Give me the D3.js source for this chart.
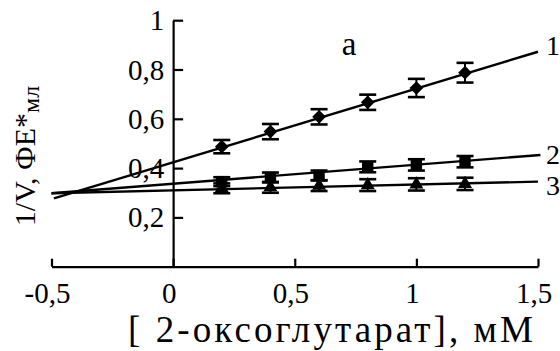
<!DOCTYPE html>
<html><head><meta charset="utf-8">
<script src="https://cdn.jsdelivr.net/npm/d3@7"></script>
</head>
<body style="margin:0"><svg id="c" width="560" height="351" style="display:block"></svg>
<script>
// data
const xValues = [0.2, 0.4, 0.6, 0.8, 1.0, 1.2];
const series1 = [0.487, 0.548, 0.608, 0.667, 0.725, 0.787];
const err1    = [0.027, 0.031, 0.031, 0.031, 0.037, 0.040];
const series2 = [0.345, 0.362, 0.370, 0.405, 0.413, 0.426];
const err2    = [0.018, 0.020, 0.020, 0.022, 0.023, 0.023];
const series3 = [0.318, 0.322, 0.329, 0.331, 0.334, 0.336];
const err3    = [0.020, 0.022, 0.022, 0.024, 0.025, 0.025];
// fitted lines (endpoints)
const fit1X = [-0.49, 1.5], fit1Y = [0.277, 0.872];
const fit2X = [-0.5, 1.51], fit2Y = [0.298, 0.453];
const fit3X = [-0.5, 1.5],  fit3Y = [0.298, 0.345];
const xTicks = [-0.5, 0, 0.5, 1, 1.5];
const xTickLabels = ["-0,5", "0", "0,5", "1", "1,5"];
const yTicks = [0.2, 0.4, 0.6, 0.8, 1];
const yTickLabels = ["0,2", "0,4", "0,6", "0,8", "1"];
const seriesNames = ["1", "2", "3"];

const FONT = '"Liberation Serif"';
const svg = d3.select("#c");
const x = d3.scaleLinear().domain([-0.5, 1.5]).range([51.5, 538]);
const y = d3.scaleLinear().domain([0, 1]).range([266.7, 20.2]);

// axes (labels drawn separately as plain texts)
const gx = svg.append("g").attr("transform", `translate(0,${y(0)})`)
  .call(d3.axisBottom(x).tickValues(xTicks).tickSizeInner(-8).tickSizeOuter(0).tickFormat(""));
const gy = svg.append("g").attr("transform", `translate(${x(0)},0)`)
  .call(d3.axisLeft(y).tickValues(yTicks).tickSizeInner(-10).tickSizeOuter(0).tickFormat(""));
[gx, gy].forEach(g => {
  g.selectAll("path.domain").attr("stroke", "#000").attr("stroke-width", 2.2);
  g.selectAll(".tick line").attr("stroke", "#000").attr("stroke-width", 2.2);
  g.selectAll(".tick text").remove();
});
xTicks.forEach((t, i) => {
  svg.append("text").attr("x", x(t) - 4).attr("y", 303).attr("font-size", 29)
    .style("font-family", FONT).attr("text-anchor", "middle").text(xTickLabels[i]);
});
yTicks.forEach((t, i) => {
  svg.append("text").attr("x", x(0) - 9).attr("y", y(t) + 10).attr("font-size", 29)
    .style("font-family", FONT).attr("text-anchor", "end").text(yTickLabels[i]);
});

// fit lines
const line = d3.line().x(d => x(d[0])).y(d => y(d[1]));
const fits = [[fit1X, fit1Y], [fit2X, fit2Y], [fit3X, fit3Y]];
fits.forEach(([fx, fy]) => {
  svg.append("path").datum(fx.map((v,i)=>[v, fy[i]]))
    .attr("d", line).attr("fill", "none").attr("stroke", "#000").attr("stroke-width", 2.4);
});

// error bars + markers
const capW = 8.5;
function drawSeries(vals, errs, symbol) {
  const g = svg.append("g");
  vals.forEach((v, i) => {
    const cx = x(xValues[i]);
    const lo = y(v - errs[i]), hi = y(v + errs[i]);
    g.append("line").attr("x1", cx).attr("x2", cx).attr("y1", lo).attr("y2", hi)
      .attr("stroke", "#000").attr("stroke-width", 2);
    [lo, hi].forEach(yy => g.append("line").attr("x1", cx - capW).attr("x2", cx + capW)
      .attr("y1", yy).attr("y2", yy).attr("stroke", "#000").attr("stroke-width", 2.6));
    g.append("path").attr("d", symbol).attr("transform", `translate(${cx},${y(v)})`).attr("fill", "#000");
  });
}
drawSeries(series1, err1, d3.symbol().type(d3.symbolDiamond2).size(120)());
drawSeries(series2, err2, d3.symbol().type(d3.symbolSquare).size(130)());
drawSeries(series3, err3, d3.symbol().type(d3.symbolTriangle).size(85)());

// series labels
const labelBase = [55, 164, 195];
seriesNames.forEach((n, i) => {
  svg.append("text").attr("x", 546).attr("y", labelBase[i]).attr("font-size", 28)
    .style("font-family", FONT).text(n);
});

// panel letter
svg.append("text").attr("x", 349).attr("y", 55).attr("text-anchor", "middle")
  .attr("font-size", 33).style("font-family", FONT).text("a");

// axis titles
svg.append("text").attr("x", 128).attr("y", 342)
  .attr("font-size", 37).attr("textLength", 405).attr("lengthAdjust", "spacing")
  .style("font-family", FONT).text("[ 2-оксоглутарат], мМ");
const yl = svg.append("text").attr("transform", "translate(35,156) rotate(-90)")
  .attr("text-anchor", "middle").attr("font-size", 30).style("font-family", FONT);
yl.append("tspan").text("1/V, ФЕ*");
yl.append("tspan").attr("dy", 4).attr("font-size", 24).text("мл");
</script></body></html>
